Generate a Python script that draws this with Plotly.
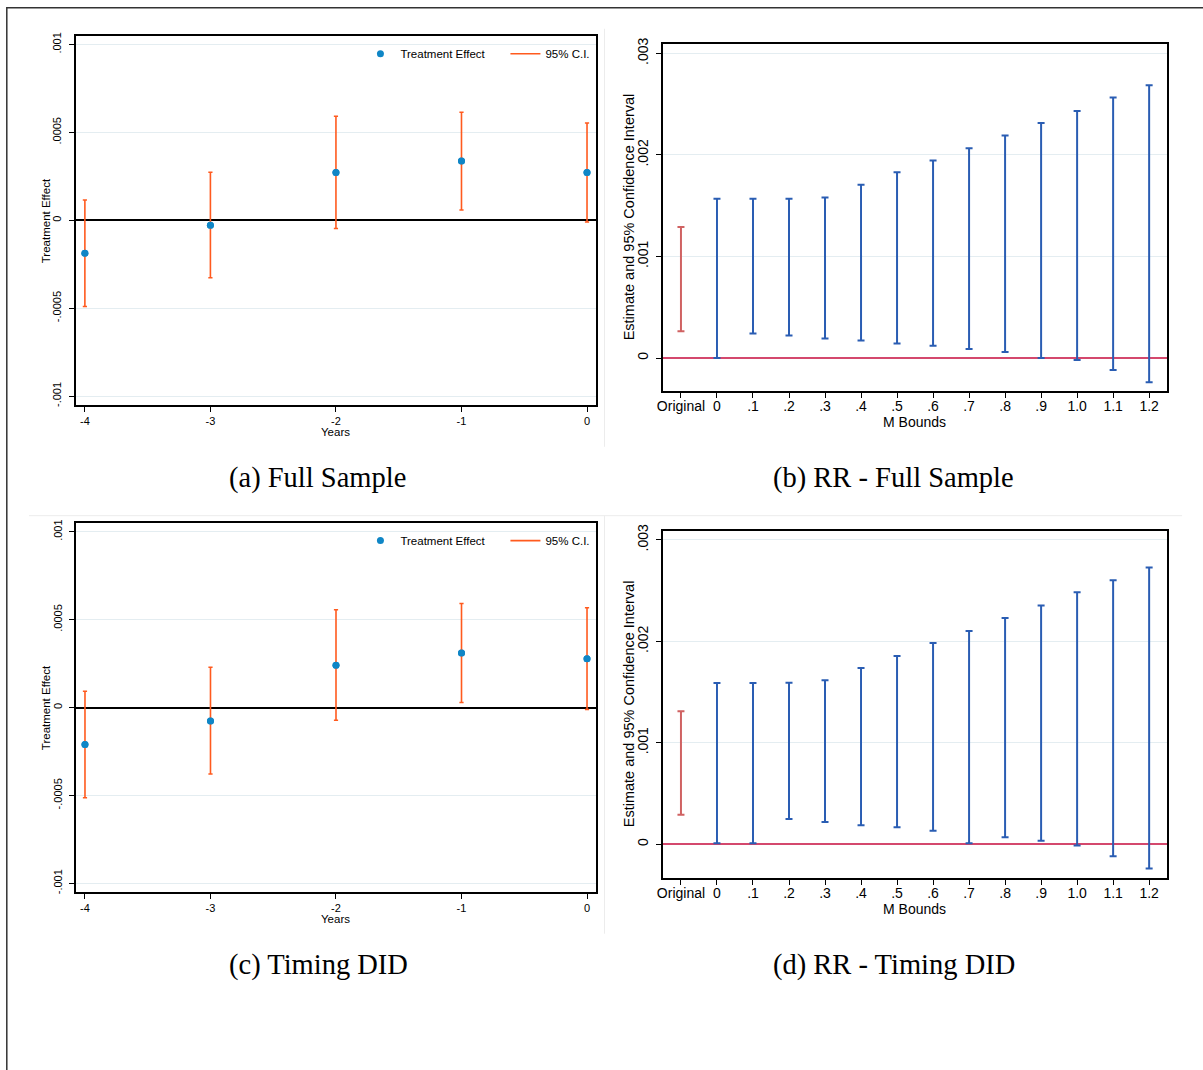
import plotly.graph_objects as go

W, H = 1203, 1070

# ---------------- data ----------------
years = [-4, -3, -2, -1, 0]

# (a) Full Sample event study
a_est = [-0.000187, -0.000028, 0.000272, 0.000337, 0.000272]
a_lo = [-0.000490, -0.000327, -0.000047, 0.000059, -0.0000095]
a_hi = [0.000115, 0.000274, 0.000592, 0.000615, 0.000554]

# (c) Timing DID event study
c_est = [-0.000210, -0.000076, 0.000240, 0.000310, 0.000278]
c_lo = [-0.000513, -0.000378, -0.000072, 0.000028, -0.0000114]
c_hi = [0.000093, 0.000229, 0.000556, 0.000592, 0.000568]

m_labels = ["Original", "0", ".1", ".2", ".3", ".4", ".5", ".6", ".7", ".8", ".9", "1.0", "1.1", "1.2"]

# (b) RR - Full Sample
b_lo = [0.000265, 0.0, 0.000242, 0.000223, 0.000193, 0.000174, 0.000144, 0.000121,
        0.000088, 0.000059, 0.0, -0.000020, -0.000118, -0.000239]
b_hi = [0.001290, 0.001569, 0.001569, 0.001569, 0.001582, 0.001707, 0.001831, 0.001946,
        0.002067, 0.002191, 0.002316, 0.002434, 0.002565, 0.002686]

# (d) RR - Timing DID
d_lo = [0.000292, 0.000010, 0.000010, 0.000249, 0.000220, 0.000187, 0.000167, 0.000134,
        0.000010, 0.000069, 0.000036, -0.000013, -0.000118, -0.000239]
d_hi = [0.001311, 0.001590, 0.001590, 0.001593, 0.001616, 0.001738, 0.001856, 0.001984,
        0.002102, 0.002230, 0.002354, 0.002485, 0.002603, 0.002728]

es_yticks = [-0.001, -0.0005, 0, 0.0005, 0.001]
es_yticktext = ["-.001", "-.0005", "0", ".0005", ".001"]
rr_yticks = [0, 0.001, 0.002, 0.003]
rr_yticktext = ["0", ".001", ".002", ".003"]

captions = ["(a) Full Sample", "(b) RR - Full Sample", "(c) Timing DID", "(d) RR - Timing DID"]

# ---------------- styles ----------------
PT_BLUE = "#0f86c6"
CI_ORANGE = "#ff5a1e"
RR_BLUE = "#2a5db3"
RR_RED = "#d06262"
ZERO_RED = "#d4486d"
GRID = "#e4edf1"
SANS = "Liberation Sans, Arial, sans-serif"
SERIF = "Liberation Serif, Times New Roman, serif"

# small correction between requested pixel positions and the photographed page
OX, SX = 6.0, 0.9966
OY, SY = 6.2, 0.9938


def px_x(p):
    return ((p - OX) / SX) / W


def px_y(p):
    return 1 - ((p - OY) / SY) / H


fig = go.Figure()

# panel frames in pixels: (left, right, top, bottom)
frames = {
    "a": (75.7, 597, 35, 405),
    "b": (664, 1169, 43.7, 391),
    "c": (75.8, 597, 523.3, 893.3),
    "d": (664, 1169, 531.7, 879),
}
axes_ids = {"a": ("x", "y", "xaxis", "yaxis"),
            "b": ("x2", "y2", "xaxis2", "yaxis2"),
            "c": ("x3", "y3", "xaxis3", "yaxis3"),
            "d": ("x4", "y4", "xaxis4", "yaxis4")}


def es_panel(key, est, lo, hi, legend):
    xa, ya, _, _ = axes_ids[key]
    xs, ys = [], []
    for x, l, h in zip(years, lo, hi):
        xs += [x, x, None]
        ys += [l, h, None]
    fig.add_trace(go.Scatter(x=years, y=est, mode="markers", name="Treatment Effect",
                             marker=dict(color=PT_BLUE, size=7),
                             xaxis=xa, yaxis=ya, legend=legend))
    fig.add_trace(go.Scatter(x=xs, y=ys, mode="lines", name="95% C.I.",
                             line=dict(color=CI_ORANGE, width=1.6),
                             xaxis=xa, yaxis=ya, legend=legend))
    fig.add_trace(go.Scatter(x=years + years, y=lo + hi, mode="markers", showlegend=False,
                             marker=dict(symbol="line-ew", size=3,
                                         line=dict(color=CI_ORANGE, width=1.5)),
                             xaxis=xa, yaxis=ya, hoverinfo="skip"))
    # re-draw points above CI lines
    fig.add_trace(go.Scatter(x=years, y=est, mode="markers", showlegend=False,
                             marker=dict(color=PT_BLUE, size=7),
                             xaxis=xa, yaxis=ya, hoverinfo="skip"))


def rr_panel(key, lo, hi):
    xa, ya, _, _ = axes_ids[key]
    mid = [(l + h) / 2 for l, h in zip(lo, hi)]
    half = [(h - l) / 2 for l, h in zip(lo, hi)]
    fig.add_trace(go.Scatter(x=m_labels[:1], y=mid[:1], mode="markers", showlegend=False,
                             marker=dict(size=0.1, opacity=0),
                             error_y=dict(type="data", array=half[:1], symmetric=True,
                                          color=RR_RED, thickness=2, width=3.5),
                             xaxis=xa, yaxis=ya))
    fig.add_trace(go.Scatter(x=m_labels[1:], y=mid[1:], mode="markers", showlegend=False,
                             marker=dict(size=0.1, opacity=0),
                             error_y=dict(type="data", array=half[1:], symmetric=True,
                                          color=RR_BLUE, thickness=2, width=3.5),
                             xaxis=xa, yaxis=ya))


es_panel("a", a_est, a_lo, a_hi, "legend")
rr_panel("b", b_lo, b_hi)
es_panel("c", c_est, c_lo, c_hi, "legend2")
rr_panel("d", d_lo, d_hi)

layout = dict(width=W, height=H, margin=dict(l=0, r=0, t=0, b=0),
              paper_bgcolor="white", plot_bgcolor="white", showlegend=True)

for key in "abcd":
    l, r, t, b = frames[key]
    _, _, xk, yk = axes_ids[key]
    es = key in "ac"
    fs = 11 if es else 14
    xaxis = dict(domain=[px_x(l), px_x(r)], anchor=axes_ids[key][1], showline=True,
                 linecolor="black", linewidth=1.5, mirror=True, showgrid=False,
                 zeroline=False, ticks="outside", ticklen=5, tickwidth=1, tickcolor="black",
                 tickfont=dict(family=SANS, size=fs, color="black"))
    yaxis = dict(domain=[px_y(b), px_y(t)], anchor=axes_ids[key][0], showline=True,
                 linecolor="black", linewidth=1.5, mirror=True, showgrid=True,
                 gridcolor=GRID, gridwidth=1, ticks="outside", ticklen=5, tickwidth=1,
                 tickcolor="black", tickangle=-90, ticklabelstandoff=3,
                 tickfont=dict(family=SANS, size=fs, color="black"))
    if es:
        xaxis.update(range=[-4.074, 0.072], tickvals=years,
                     ticktext=[str(v) for v in years])
        yaxis.update(range=[-0.00105, 0.00105], tickvals=es_yticks, ticktext=es_yticktext,
                     zeroline=True, zerolinecolor="black", zerolinewidth=1.5)
    else:
        xaxis.update(type="category", range=[-0.5, 13.5], categoryorder="array",
                     categoryarray=m_labels, ticklabelstandoff=-3)
        rng = [-0.000324, 0.003089] if key == "b" else [-0.000331, 0.003085]
        yaxis.update(range=rng, tickvals=rr_yticks, ticktext=rr_yticktext,
                     zeroline=True, zerolinecolor=ZERO_RED, zerolinewidth=2)
    layout[xk] = xaxis
    layout[yk] = yaxis

leg_common = dict(orientation="h", bgcolor="rgba(0,0,0,0)", borderwidth=0,
                  font=dict(family=SANS, size=11.5, color="black"),
                  xanchor="left", yanchor="middle", itemwidth=30,
                  entrywidth=100, entrywidthmode="pixels", tracegroupgap=0)
layout["legend"] = dict(leg_common, x=px_x(361), y=px_y(53))
layout["legend2"] = dict(leg_common, x=px_x(361), y=px_y(541))

annotations = []
ann_common = dict(xref="paper", yref="paper", showarrow=False, xanchor="center",
                  yanchor="middle")
# axis titles
for ytitle_y, xtitle_y in ((220, 432), (708, 920)):
    annotations.append(dict(ann_common, text="Treatment Effect", x=px_x(46), y=px_y(ytitle_y),
                            textangle=-90, font=dict(family=SANS, size=11.5, color="black")))
    annotations.append(dict(ann_common, text="Years", x=px_x(336), y=px_y(xtitle_y),
                            font=dict(family=SANS, size=11.5, color="black")))
for ytitle_y, xtitle_y in ((217, 422.5), (705, 910)):
    annotations.append(dict(ann_common, text="Estimate and 95% Confidence Interval",
                            x=px_x(630), y=px_y(ytitle_y), textangle=-90,
                            font=dict(family=SANS, size=14.5, color="black")))
    annotations.append(dict(ann_common, text="M Bounds", x=px_x(916), y=px_y(xtitle_y),
                            font=dict(family=SANS, size=14, color="black")))
# captions
for txt, cx, cy in zip(captions, [318, 895, 319, 895], [478, 478, 966, 966]):
    annotations.append(dict(ann_common, text=txt, x=px_x(cx), y=px_y(cy),
                            font=dict(family=SERIF, size=28.5, color="black")))
layout["annotations"] = annotations

shapes = [
    # outer figure box (clipped at image edges)
    dict(type="rect", xref="paper", yref="paper", x0=max(px_x(5), 0.8 / W), x1=px_x(1220),
         y0=px_y(1090), y1=min(px_y(4.5), 1 - 0.8 / H),
         line=dict(color="#333333", width=1.5), layer="below"),
    # faint graph-region borders
    dict(type="line", xref="paper", yref="paper", x0=px_x(605.5), x1=px_x(605.5),
         y0=px_y(28), y1=px_y(447), line=dict(color="#ececec", width=1)),
    dict(type="line", xref="paper", yref="paper", x0=px_x(605.5), x1=px_x(605.5),
         y0=px_y(516), y1=px_y(935), line=dict(color="#ececec", width=1)),
    dict(type="line", xref="paper", yref="paper", x0=px_x(29), x1=px_x(1184),
         y0=px_y(516), y1=px_y(516), line=dict(color="#ececec", width=1)),
]
layout["shapes"] = shapes

fig.update_layout(**layout)

post = (
    "document.documentElement.style.margin='0';"
    "document.documentElement.style.padding='0';"
    "document.documentElement.style.overflow='hidden';"
    "document.body.style.margin='0';"
    "document.body.style.padding='0';"
    "document.body.style.overflow='hidden';"
    "var d=document.getElementsByClassName('plotly-graph-div')[0];"
    "d.style.position='absolute';d.style.left='0px';d.style.top='0px';"
)
fig.write_html("out.html", config={"displayModeBar": False}, post_script=post)
